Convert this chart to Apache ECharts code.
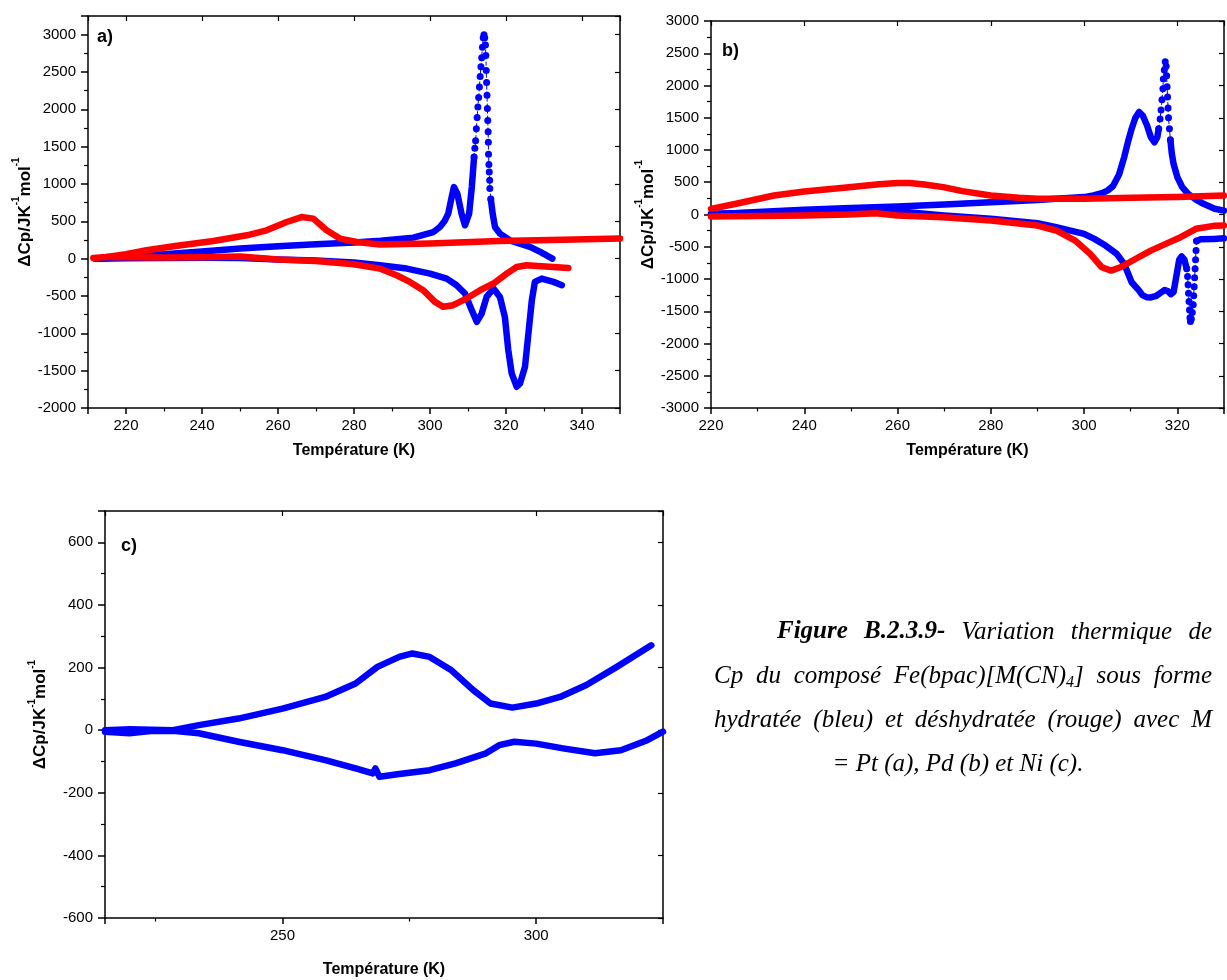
<!DOCTYPE html>
<html><head><meta charset="utf-8">
<script src="https://cdn.jsdelivr.net/npm/echarts@6/dist/echarts.min.js"></script>
<style>html,body{margin:0;padding:0;background:#fff}#c{width:1227px;height:980px}</style>
</head><body><div id="c"></div>
<script>
// ---------- DATA (Temperature K, ΔCp J K-1 mol-1) ----------
// Panel a) M = Pt
const aBlueHeat1 = [[211.9,0],[215,12],[220,28],[230,60],[240,97],[250,135],[260,165],[270,192],[280,215],[287,240],[295.6,282],[300.9,357],[302.6,424],[303.8,500],[304.8,603],[305.7,825],[306.3,959],[307.2,870],[308.3,603],[309.2,447],[310.3,603],[311.0,959],[311.6,1360]];
const aBluePeak = [[311.6,1360],[311.8,1480],[312.0,1580],[312.2,1740],[312.4,1890],[312.6,2030],[312.8,2160],[313.0,2300],[313.2,2440],[313.4,2570],[313.6,2690],[313.8,2830],[314.0,2960],[314.2,3000],[314.4,2960],[314.6,2860],[314.7,2720],[314.8,2520],[314.9,2360],[315.0,2190],[315.1,2010],[315.2,1850],[315.3,1700],[315.35,1560],[315.4,1400],[315.5,1260],[315.6,1160],[315.7,1050],[315.75,940],[316.0,800]];
const aBlueHeat2 = [[316.0,800],[316.5,600],[317.1,424],[318.4,335],[321,246],[326.3,157],[329,90],[332.2,0]];
const aBlueCool = [[334.7,-356],[332.5,-311],[329.4,-267],[327.6,-311],[326.8,-556],[325.9,-1002],[325.0,-1448],[323.7,-1670],[322.8,-1715],[321.5,-1536],[320.6,-1225],[319.7,-780],[318.4,-512],[316.7,-400],[314.9,-512],[313.6,-735],[312.3,-846],[311.0,-690],[309.2,-467],[307.0,-356],[304.4,-267],[300,-200],[293.9,-133],[286.8,-88],[280,-50],[270,-25],[260,-10],[250,10],[240,12],[230,8],[220,5],[213,0]];
const aRedHeat = [[211.4,10],[214.9,23],[220,60],[225.4,112],[233,170],[243,237],[251.8,313],[257,380],[262.3,491],[266.2,557],[269.3,536],[272.8,380],[276.3,269],[280.7,223],[286.8,190],[300,202],[318,237],[335,255],[350,270]];
const aRedCool = [[336.4,-124],[332.4,-111],[325.4,-88],[322.8,-111],[320.2,-200],[316.7,-333],[313.2,-422],[309.6,-534],[306.1,-623],[303.5,-645],[301.3,-579],[298.2,-422],[294.7,-311],[291.2,-222],[286.8,-133],[280,-75],[270,-30],[260,-10],[250,28],[240,18],[230,15],[220,18],[214.9,23]];

// Panel b) M = Pd
const bBlueHeat1 = [[220,0],[230,40],[240,72],[250,100],[260,124],[270,155],[280,190],[290,225],[294,243],[300,270],[302,295],[303.8,330],[305,370],[306.2,440],[307.5,620],[308.6,890],[309.5,1150],[310.2,1330],[311,1500],[311.8,1590],[312.6,1530],[313.5,1380],[314.3,1200],[315.1,1120],[315.7,1200],[316.0,1330]];
const bBluePeak = [[316.0,1330],[316.3,1480],[316.5,1620],[316.7,1780],[316.9,1950],[317.0,2100],[317.2,2240],[317.4,2370],[317.6,2300],[317.7,2150],[317.8,1980],[317.9,1820],[318.0,1650],[318.1,1500],[318.3,1330],[318.5,1160]];
const bBlueHeat2 = [[318.5,1160],[318.8,950],[319.2,780],[320,580],[321,430],[322.3,320],[324,230],[325.6,165],[328,90],[330,60]];
const bBlueCool1 = [[330,-370],[327.8,-378],[325,-385],[324.1,-410]];
const bBlueDip = [[324.1,-410],[324.0,-560],[323.9,-700],[323.8,-840],[323.7,-980],[323.6,-1120],[323.5,-1260],[323.4,-1400],[323.2,-1520],[323.0,-1620],[322.8,-1660],[322.7,-1600],[322.6,-1480],[322.5,-1350],[322.4,-1220],[322.3,-1090],[322.2,-960],[322.0,-840]];
const bBlueCool2 = [[322.0,-840],[321.5,-700],[320.9,-650],[320.4,-700],[319.8,-950],[319.2,-1200],[318.6,-1235],[318,-1190],[317.3,-1170],[316.3,-1220],[315.5,-1260],[314.3,-1285],[313.5,-1284],[312.5,-1250],[311.8,-1180],[310.2,-1050],[308.6,-766],[307,-611],[304.6,-481],[302.2,-378],[300,-300],[294,-197],[290,-135],[280,-67],[270,-16],[265.8,10],[260,52],[250,62],[240,47],[230,28],[220,10]];
const bRedHeat = [[220,88],[225.4,166],[233.5,295],[240,357],[249.6,424],[256,470],[260,487],[262.6,490],[265.8,466],[269.8,424],[273.9,362],[280,295],[286,259],[290,243],[300,243],[310.2,259],[320,270],[330,295]];
const bRedCool = [[330,-170],[327.8,-176],[324,-222],[320.7,-352],[317.5,-455],[314.3,-560],[311,-690],[307.8,-818],[305.8,-870],[303.8,-818],[301.3,-611],[298.1,-404],[294,-248],[290,-171],[280,-93],[269.8,-41],[260,-16],[255.3,21],[249.6,0],[240,-16],[230,-25],[220,-31]];

// Panel c) M = Ni
const cBlueHeat = [[215,0],[220,3],[228.4,0],[233.5,16],[241.3,37],[250,69],[258.4,106],[264.4,149],[268.7,202],[273,234],[275.6,245],[279,234],[283.3,191],[287.6,128],[291,85],[295.3,72],[300,85],[304.7,106],[309.9,144],[315.9,202],[322.7,271]];
const cBlueCool = [[215,-5],[219.8,-10],[224,-3],[228.4,-2],[233.5,-10],[241.3,-37],[250,-64],[258.4,-96],[264.4,-122],[267.8,-138],[268.3,-122],[269.1,-149],[273,-140],[279,-128],[284.1,-106],[290.1,-74],[292.7,-48],[295.7,-37],[300,-43],[305.6,-59],[311.6,-74],[316.7,-64],[321.9,-32],[325,-5]];

// Axis settings (ranges / major steps)
const xRanges = [[210,350,20,7],[220,330,20,null],[215,325,50,2]];
const yRanges = [[-2000,3250,500],[-3000,3000,500],[-600,700,200]];
const panelLabels = ['a)','b)','c)'];
const xName = 'Température (K)';

// ---------- CHART ----------
const BLUE = '#0000ff', RED = '#ff0000';
const FONT = '"Liberation Sans", Arial, sans-serif';
const grids = [
  {left:88, top:16, width:532, height:392},
  {left:711, top:21, width:526, height:387},
  {left:105, top:511, width:558, height:407}
];
const xAxes = [], yAxes = [];
const axisLine = {show:true, onZero:false, lineStyle:{color:'#000', width:1.5}};
grids.forEach((g, i) => {
  const [xmin, xmax, xstep, xsplit] = xRanges[i];
  const [ymin, ymax, ystep] = yRanges[i];
  const xBase = {type:'value', gridIndex:i, min:xmin, max:xmax, splitLine:{show:false}, axisLine};
  if (xmin % xstep === 0) xBase.interval = xstep; else xBase.splitNumber = xsplit;
  xAxes.push(Object.assign({}, xBase, {
    position:'bottom',
    axisTick:{show:true, inside:false, length:6, lineStyle:{color:'#000', width:1.5}},
    minorTick:{show:true, splitNumber:2, length:3.5, lineStyle:{color:'#000', width:1.2}},
    axisLabel:{margin:10, fontSize:15, color:'#000', fontFamily:FONT,
      formatter: v => (Math.abs(v % xstep) < 1e-9 ? String(v) : '')},
    name:xName, nameLocation:'middle', nameGap:i===2?44:35,
    nameTextStyle:{fontWeight:'bold', fontSize:16, color:'#000', fontFamily:FONT}
  }));
  xAxes.push(Object.assign({}, xBase, {
    position:'top',
    axisTick:{show:true, inside:true, length:5, lineStyle:{color:'#000', width:1.2}},
    minorTick:{show:false},
    axisLabel:{show:false}
  }));
  const yBase = {type:'value', gridIndex:i, min:ymin, max:ymax, interval:ystep, splitLine:{show:false}, axisLine};
  yAxes.push(Object.assign({}, yBase, {
    position:'left',
    axisTick:{show:true, inside:false, length:7, lineStyle:{color:'#000', width:1.5}},
    minorTick:{show:true, splitNumber:2, length:4, lineStyle:{color:'#000', width:1.2}},
    axisLabel:{margin:12, fontSize:15, color:'#000', fontFamily:FONT,
      formatter: v => (Math.abs(v % ystep) < 1e-9 ? String(v) : '')},
    name:'{n|ΔCp/JK}{s|-1}{n|mol}{s|-1}', nameLocation:'middle', nameRotate:90,
    nameGap: i===2 ? 56 : 52,
    nameTextStyle:{rich:{
      n:{fontWeight:'bold', fontSize:17, color:'#000', fontFamily:FONT, lineHeight:22, verticalAlign:'bottom'},
      s:{fontWeight:'bold', fontSize:10, color:'#000', fontFamily:FONT, lineHeight:22, verticalAlign:'top'}
    }}
  }));
  yAxes.push(Object.assign({}, yBase, {
    position:'right',
    axisTick:{show:true, inside:true, length:5, lineStyle:{color:'#000', width:1.2}},
    minorTick:{show:false},
    axisLabel:{show:false}
  }));
});

function solid(data, color, gi, w) {
  return {type:'line', data, xAxisIndex:2*gi, yAxisIndex:2*gi, symbol:'none', showSymbol:false,
    lineStyle:{color, width:w, cap:'round', join:'round'}, silent:true, animation:false};
}
function dots(data, color, gi) {
  return {type:'line', data, xAxisIndex:2*gi, yAxisIndex:2*gi, symbol:'circle', symbolSize:7, showSymbol:true,
    itemStyle:{color, borderWidth:0}, lineStyle:{color, width:1, type:'dashed'}, silent:true, animation:false};
}
const LW = 6.5;
const series = [
  solid(aBlueHeat1, BLUE, 0, LW), dots(aBluePeak, BLUE, 0), solid(aBlueHeat2, BLUE, 0, LW), solid(aBlueCool, BLUE, 0, LW),
  solid(aRedHeat, RED, 0, LW), solid(aRedCool, RED, 0, LW),
  solid(bBlueHeat1, BLUE, 1, LW), dots(bBluePeak, BLUE, 1), solid(bBlueHeat2, BLUE, 1, LW),
  solid(bBlueCool1, BLUE, 1, LW), dots(bBlueDip, BLUE, 1), solid(bBlueCool2, BLUE, 1, LW),
  solid(bRedHeat, RED, 1, LW), solid(bRedCool, RED, 1, LW),
  solid(cBlueHeat, BLUE, 2, 6.5), solid(cBlueCool, BLUE, 2, 6.5)
];

// ---------- caption (justified) ----------
const SERIF = '"Liberation Serif", "Times New Roman", serif';
const CAP = 25;
const SUB = 16;
const cv = document.createElement('canvas').getContext('2d');
function fontStr(seg){ return `italic ${seg.bold?'bold ':''}${seg.sub?SUB:CAP}px ${SERIF}`; }
function segW(seg){ cv.font = fontStr(seg); return cv.measureText(seg.t).width; }
const captionLines = [
  {y:632, x0:777, x1:1212, words:[[{t:'Figure',bold:1}],[{t:'B.2.3.9-',bold:1}],[{t:'Variation'}],[{t:'thermique'}],[{t:'de'}]]},
  {y:676, x0:714, x1:1212, words:[[{t:'Cp'}],[{t:'du'}],[{t:'composé'}],[{t:'Fe(bpac)[M(CN)'},{t:'4',sub:1},{t:']'}],[{t:'sous'}],[{t:'forme'}]]},
  {y:720, x0:714, x1:1212, words:[[{t:'hydratée'}],[{t:'(bleu)'}],[{t:'et'}],[{t:'déshydratée'}],[{t:'(rouge)'}],[{t:'avec'}],[{t:'M'}]]},
  {y:764, center:958, words:[[{t:'='}],[{t:'Pt'}],[{t:'(a),'}],[{t:'Pd'}],[{t:'(b)'}],[{t:'et'}],[{t:'Ni'}],[{t:'(c).'}]]}
];
const graphics = [];
captionLines.forEach(line => {
  const widths = line.words.map(w => w.reduce((s, seg) => s + segW(seg), 0));
  const total = widths.reduce((a, b) => a + b, 0);
  let x, gap;
  if (line.center) { cv.font = fontStr({}); gap = cv.measureText(' ').width; x = line.center - (total + gap*(widths.length-1))/2; }
  else { x = line.x0; gap = (line.x1 - line.x0 - total)/(widths.length-1); }
  line.words.forEach((w, wi) => {
    w.forEach(seg => {
      graphics.push({type:'text', x, y: line.y + (seg.sub ? 7 : 0), silent:true,
        style:{text:seg.t, fontSize: seg.sub?SUB:CAP, fontStyle:'italic', fontWeight: seg.bold?'bold':'normal',
          fontFamily:SERIF, fill:'#000', verticalAlign:'middle', align:'left'}});
      x += segW(seg);
    });
    x += gap;
  });
});
const labelPos = [[97,28],[722,42],[121,537]];
panelLabels.forEach((t, i) => graphics.push({type:'text', x:labelPos[i][0], y:labelPos[i][1], silent:true,
  style:{text:t, fontSize:18, fontWeight:'bold', fontFamily:FONT, fill:'#000', verticalAlign:'top'}}));

const chart = echarts.init(document.getElementById('c'), null, {renderer:'canvas'});
chart.setOption({
  animation:false, backgroundColor:'#fff',
  grid: grids, xAxis: xAxes, yAxis: yAxes, series, graphic: graphics
});
</script></body></html>
